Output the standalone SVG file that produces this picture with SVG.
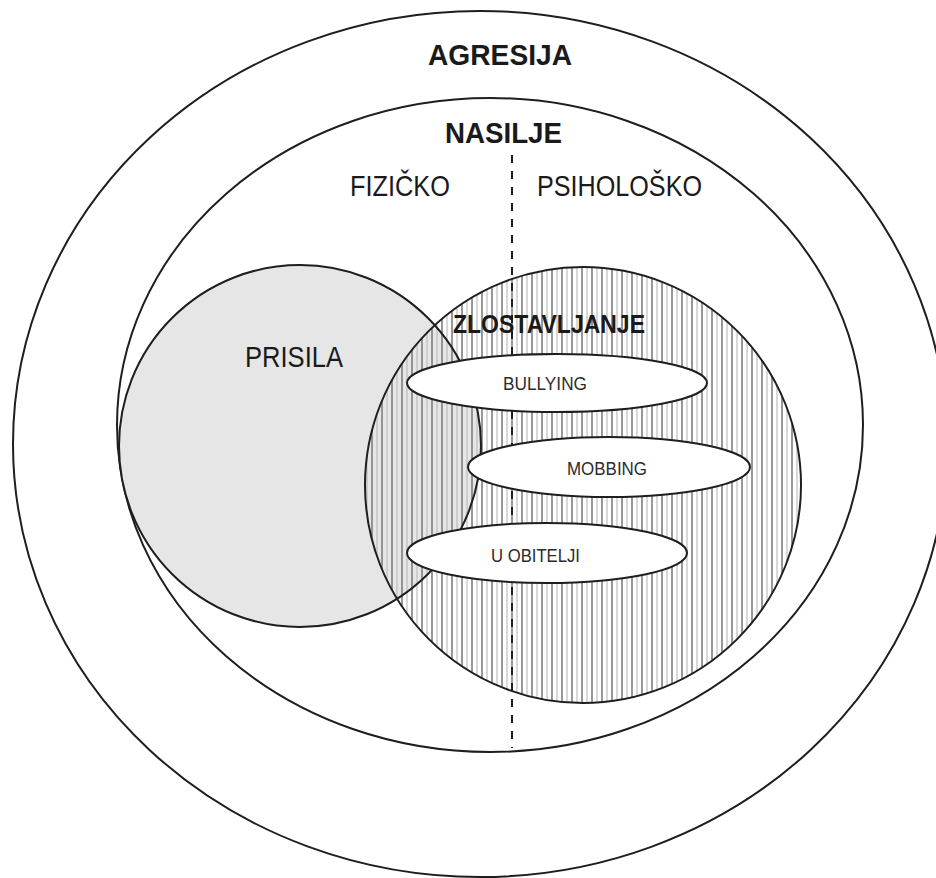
<svg xmlns="http://www.w3.org/2000/svg" width="936" height="878" viewBox="0 0 936 878">
<style>
.ring{fill:none;stroke:#1e1e1e;stroke-width:2}
.lbl{font-family:"Liberation Sans",Arial,sans-serif;fill:#1a1a1a}
.b{font-weight:bold}
.small{font-size:19px;fill:#2c2c2c}
.oval{fill:#ffffff;stroke:#1e1e1e;stroke-width:2}
</style>
<defs>
<pattern id="hatch" patternUnits="userSpaceOnUse" width="10" height="10">
<line x1="2" y1="0" x2="2" y2="10" stroke="#7e7e7e" stroke-width="1.6"/>
<line x1="7" y1="0" x2="7" y2="10" stroke="#b8b8b8" stroke-width="1.1"/>
</pattern>
</defs>
<rect width="936" height="878" fill="#ffffff"/>
<g id="agresija">
<ellipse class="ring" cx="480" cy="444" rx="467" ry="433"/>
<text class="lbl b" x="428" y="65" font-size="30" textLength="144" lengthAdjust="spacingAndGlyphs">AGRESIJA</text>
</g>
<g id="nasilje">
<ellipse class="ring" cx="490" cy="425" rx="373" ry="327"/>
<text class="lbl b" x="445" y="143" font-size="30" textLength="117" lengthAdjust="spacingAndGlyphs">NASILJE</text>
<text class="lbl" x="350" y="196" font-size="29" textLength="100" lengthAdjust="spacingAndGlyphs">FIZIČKO</text>
<text class="lbl" x="537" y="196" font-size="29" textLength="165" lengthAdjust="spacingAndGlyphs">PSIHOLOŠKO</text>
</g>
<g id="prisila">
<circle cx="300" cy="446" r="181" fill="#e6e6e6"/>
<text class="lbl" x="245" y="367" font-size="30" textLength="98" lengthAdjust="spacingAndGlyphs">PRISILA</text>
</g>
<g id="zlostavljanje">
<circle cx="583" cy="485" r="218" fill="url(#hatch)"/>
<circle class="ring" cx="300" cy="446" r="181"/>
<circle class="ring" cx="583" cy="485" r="218"/>
</g>
<g id="connectors">
<line x1="512" y1="155" x2="512" y2="748" stroke="#1e1e1e" stroke-width="2" stroke-dasharray="8 8"/>
</g>
<g id="zlostavljanje-label">
<text class="lbl b" x="453" y="333" font-size="25" textLength="192" lengthAdjust="spacingAndGlyphs">ZLOSTAVLJANJE</text>
</g>
<g id="bullying">
<ellipse class="oval" cx="557" cy="383" rx="150" ry="29"/>
<text class="lbl small" x="503" y="390" textLength="84" lengthAdjust="spacingAndGlyphs">BULLYING</text>
</g>
<g id="mobbing">
<ellipse class="oval" cx="609" cy="467" rx="141" ry="30"/>
<text class="lbl small" x="567" y="475" textLength="80" lengthAdjust="spacingAndGlyphs">MOBBING</text>
</g>
<g id="u-obitelji">
<ellipse class="oval" cx="547" cy="553" rx="140" ry="30"/>
<text class="lbl small" x="491" y="562" textLength="89" lengthAdjust="spacingAndGlyphs">U OBITELJI</text>
</g>
</svg>
